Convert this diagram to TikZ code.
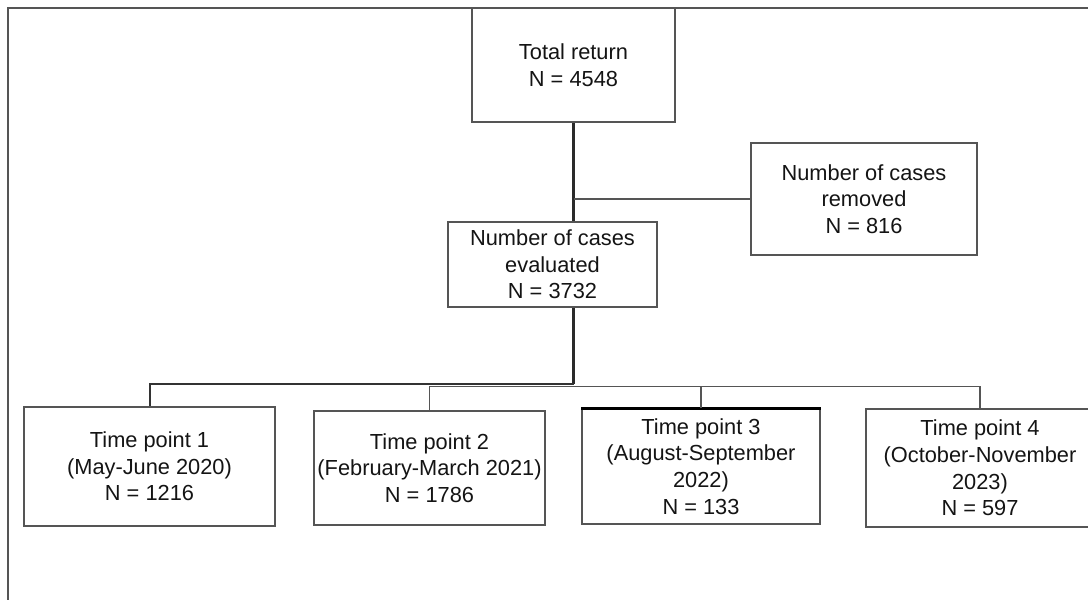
\documentclass[tikz,border=0pt]{standalone}
\usepackage{fontspec}
\setmainfont{Liberation Sans}
\definecolor{boxgray}{HTML}{555555}
\definecolor{darkline}{HTML}{2A2A2A}
\definecolor{txt}{HTML}{141414}
\begin{document}
\begin{tikzpicture}[x=1pt,y=-1pt,
  box/.style={draw=boxgray, line width=1.6pt, rectangle, inner sep=0pt, align=center, text=txt,
    font=\fontsize{21.8}{26.6}\selectfont},
  link/.style={draw=boxgray, line width=1.5pt},
  trunk/.style={draw=darkline, line width=2.4pt},
  frame/.style={draw=boxgray, line width=1.6pt}]
\useasboundingbox (0,0) rectangle (1088,600);
\clip (0,0) rectangle (1088,600);
\fill[white] (0,0) rectangle (1088,600);
% outer frame (top and left visible)
\draw[frame] (8,600) -- (8,8) -- (1088,8);
% nodes
\node[box, minimum width=203pt, minimum height=114pt] (total) at (573.5,65) {Total return\\N = 4548};
\node[box, minimum width=226pt, minimum height=112pt] (removed) at (864,199) {Number of cases\\removed\\N = 816};
\node[box, minimum width=209pt, minimum height=85pt] (eval) at (552.5,264.5) {Number of cases\\evaluated\\N = 3732};
\node[box, minimum width=251pt, minimum height=119pt] (t1) at (149.5,466.5) {Time point 1\\(May-June 2020)\\N = 1216};
\node[box, minimum width=231pt, minimum height=114pt] (t2) at (429.5,468) {Time point 2\\(February-March 2021)\\N = 1786};
\node[box, minimum width=238pt, minimum height=115pt] (t3) at (701,466.5) {Time point 3\\(August-September\\2022)\\N = 133};
\node[box, minimum width=228pt, minimum height=118pt] (t4) at (980,468) {Time point 4\\(October-November\\2023)\\N = 597};
\draw[line width=2.6pt, black] (t3.north west) -- (t3.north east);
% connectors
\coordinate (j) at (573.5,384);
\coordinate (bus2) at (0,386.5);
\draw[trunk] (total.south) -- (total.south |- eval.north);
\draw[link] (total.south |- removed.west) -- (removed.west);
\draw[trunk] (total.south |- eval.south) -- (j);
\draw[link, line width=2pt, draw=darkline!80!boxgray] (j) -| (t1.north);
\draw[link] (t2.north) -- (t2.north |- bus2) -- (t4.north |- bus2) -- (t4.north);
\draw[link] (t3.north) -- (t3.north |- bus2);
\end{tikzpicture}
\end{document}
